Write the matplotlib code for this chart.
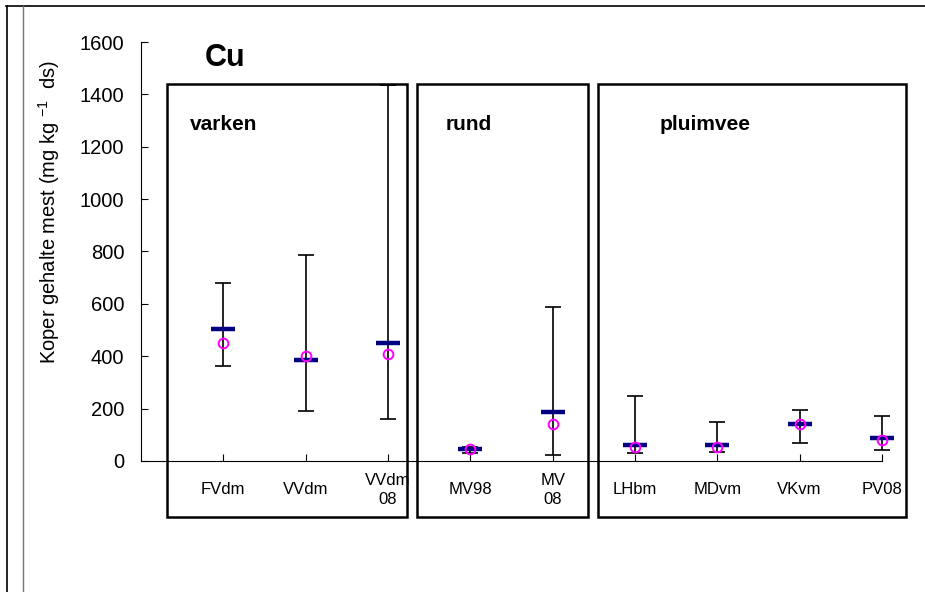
import matplotlib.pyplot as plt
from matplotlib.patches import Rectangle
from matplotlib.lines import Line2D

plt.rcParams['font.family'] = ['Liberation Sans', 'DejaVu Sans']
plt.rcParams['mathtext.default'] = 'regular'

# data
categories = ["FVdm", "VVdm", "VVdm\n08", "MV98", "MV\n08", "LHbm", "MDvm", "VKvm", "PV08"]
means = [504, 385, 450, 46, 187, 61, 61, 141, 87]
medians = [450, 400, 408, 45, 141, 54, 52, 140, 79]
err_low = [363, 191, 160, 30, 23, 30, 36, 69, 42]
err_high = [680, 786, 1435, 53, 588, 248, 149, 195, 172]

groups = ["varken", "rund", "pluimvee"]

W, H = 925, 592
fig = plt.figure(figsize=(W / 100, H / 100), dpi=100)


def fx(px):
    return px / W


def fy(py):
    return 1 - py / H


ax = fig.add_axes([fx(141), fy(461), fx(882) - fx(141), fy(42) - fy(461)])

x = list(range(1, len(categories) + 1))
yerr = [[m - lo for m, lo in zip(means, err_low)],
        [hi - m for m, hi in zip(means, err_high)]]

eb = ax.errorbar(x, means, yerr=yerr, fmt='none', ecolor='black', elinewidth=1.2,
                 capsize=6, capthick=1.2, zorder=2)
for part in eb.lines[1] + eb.lines[2]:
    part.set_clip_on(False)
ax.plot(x, means, linestyle='none', marker='_', markersize=17, mew=3.2,
        color='#000080', zorder=3, clip_on=False)
ax.plot(x, medians, linestyle='none', marker='o', markersize=7, mew=1.4,
        markerfacecolor='none', markeredgecolor='#ff00ff', zorder=4, clip_on=False)

ax.set_xlim(0, 9)
ax.set_ylim(0, 1600)
ax.set_yticks(range(0, 1601, 200))
ax.set_xticks(x)
ax.set_xticklabels([])
for xi, lab in zip(x, categories):
    ax.text(xi, -110, lab, ha='center', va='center', fontsize=12, linespacing=1.3)

ax.spines['top'].set_visible(False)
ax.spines['right'].set_visible(False)
ax.spines['left'].set_linewidth(0.8)
ax.spines['bottom'].set_linewidth(0.8)
ax.tick_params(axis='y', direction='in', length=5, width=0.8, labelsize=14.5, pad=12)
ax.tick_params(axis='x', direction='in', length=5, width=0.8)

ax.set_ylabel('Koper gehalte mest (mg kg $^{-1}$  ds)', fontsize=14.5)
ax.yaxis.set_label_coords(-0.107, 0.594)

# group boxes
boxes = [(167, 407), (417, 588), (598, 906)]
for x0, x1 in boxes:
    fig.patches.append(Rectangle((fx(x0), fy(517)), fx(x1) - fx(x0), fy(84) - fy(517),
                                 transform=fig.transFigure, fill=False,
                                 edgecolor='black', linewidth=1.8, zorder=5))

fig.text(fx(190), fy(125), groups[0], fontsize=15, fontweight='bold', va='center')
fig.text(fx(446), fy(125), groups[1], fontsize=15, fontweight='bold', va='center')
fig.text(fx(660), fy(125), groups[2], fontsize=15, fontweight='bold', va='center')
fig.text(fx(205), fy(58), "Cu", fontsize=22, fontweight='bold', va='center')

# outer frame lines
fig.add_artist(Line2D([fx(6), 1], [fy(6), fy(6)], color='black', lw=1.2))
fig.add_artist(Line2D([fx(7), fx(7)], [fy(6), 0], color='black', lw=1.2))
fig.add_artist(Line2D([fx(23), fx(23)], [fy(6), 0], color='#777777', lw=1.0))

fig.savefig("out.png", dpi=100)
